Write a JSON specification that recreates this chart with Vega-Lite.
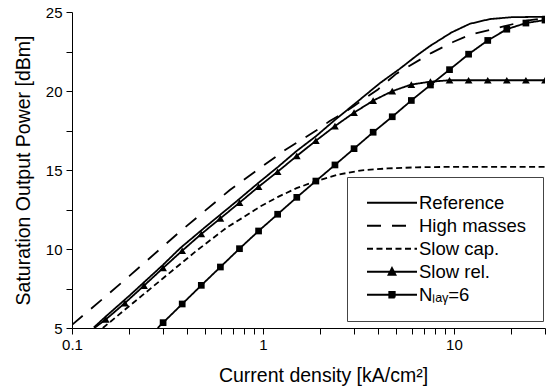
{
  "$schema": "https://vega.github.io/schema/vega-lite/v6.json",
  "width": 473,
  "height": 316,
  "autosize": {"type": "none"},
  "padding": {"left": 72, "top": 12, "right": 6, "bottom": 62},
  "config": {
    "view": {"stroke": null},
    "font": "Liberation Sans",
    "axis": {
      "domainColor": "black", "domainWidth": 1, "tickColor": "black", "tickWidth": 1,
      "labelColor": "black", "titleColor": "black", "labelFont": "Liberation Sans",
      "labelFontSize": 15, "titleFont": "Liberation Sans", "titleFontSize": 19.5,
      "titleFontWeight": "normal", "grid": false
    }
  },
  "data": {"values": [
    {"s": "Reference", "x": 0.13, "y": 5.03},
    {"s": "Reference", "x": 0.15, "y": 5.72},
    {"s": "Reference", "x": 0.2, "y": 7.05},
    {"s": "Reference", "x": 0.3, "y": 9.0},
    {"s": "Reference", "x": 0.3675, "y": 10.04},
    {"s": "Reference", "x": 0.5, "y": 11.4},
    {"s": "Reference", "x": 0.7, "y": 12.85},
    {"s": "Reference", "x": 0.95, "y": 14.2},
    {"s": "Reference", "x": 1.2, "y": 15.2},
    {"s": "Reference", "x": 1.5, "y": 16.2},
    {"s": "Reference", "x": 1.9, "y": 17.15},
    {"s": "Reference", "x": 2.4, "y": 18.2},
    {"s": "Reference", "x": 3.0, "y": 19.15},
    {"s": "Reference", "x": 4.1, "y": 20.5},
    {"s": "Reference", "x": 5.2, "y": 21.4},
    {"s": "Reference", "x": 6.4, "y": 22.25},
    {"s": "Reference", "x": 7.5, "y": 22.85},
    {"s": "Reference", "x": 9.7, "y": 23.7},
    {"s": "Reference", "x": 12.1, "y": 24.25},
    {"s": "Reference", "x": 15.4, "y": 24.55},
    {"s": "Reference", "x": 20, "y": 24.67},
    {"s": "Reference", "x": 30, "y": 24.7},

    {"s": "High masses", "x": 0.1, "y": 5.2},
    {"s": "High masses", "x": 0.15, "y": 7.0},
    {"s": "High masses", "x": 0.2, "y": 8.3},
    {"s": "High masses", "x": 0.3675, "y": 11.1},
    {"s": "High masses", "x": 0.671, "y": 13.73},
    {"s": "High masses", "x": 0.908, "y": 14.89},
    {"s": "High masses", "x": 1.3, "y": 16.25},
    {"s": "High masses", "x": 1.9, "y": 17.5},
    {"s": "High masses", "x": 2.24, "y": 18.1},
    {"s": "High masses", "x": 2.63, "y": 18.6},
    {"s": "High masses", "x": 3.0, "y": 19.05},
    {"s": "High masses", "x": 4.0, "y": 20.1},
    {"s": "High masses", "x": 5.0, "y": 21.1},
    {"s": "High masses", "x": 7.6, "y": 22.4},
    {"s": "High masses", "x": 9.9, "y": 23.1},
    {"s": "High masses", "x": 12.1, "y": 23.55},
    {"s": "High masses", "x": 15.4, "y": 23.86},
    {"s": "High masses", "x": 18, "y": 24.07},
    {"s": "High masses", "x": 24, "y": 24.45},
    {"s": "High masses", "x": 30, "y": 24.62},

    {"s": "Slow cap.", "x": 0.145, "y": 5.0},
    {"s": "Slow cap.", "x": 0.2, "y": 6.4},
    {"s": "Slow cap.", "x": 0.3, "y": 8.15},
    {"s": "Slow cap.", "x": 0.45, "y": 9.9},
    {"s": "Slow cap.", "x": 0.645, "y": 11.35},
    {"s": "Slow cap.", "x": 0.8, "y": 12.05},
    {"s": "Slow cap.", "x": 0.964, "y": 12.68},
    {"s": "Slow cap.", "x": 1.2, "y": 13.3},
    {"s": "Slow cap.", "x": 1.5, "y": 13.85},
    {"s": "Slow cap.", "x": 1.9, "y": 14.3},
    {"s": "Slow cap.", "x": 2.5, "y": 14.72},
    {"s": "Slow cap.", "x": 3.3, "y": 14.98},
    {"s": "Slow cap.", "x": 4.5, "y": 15.1},
    {"s": "Slow cap.", "x": 6.4, "y": 15.17},
    {"s": "Slow cap.", "x": 10, "y": 15.2},
    {"s": "Slow cap.", "x": 30, "y": 15.2},

    {"s": "Slow rel.", "x": 0.131, "y": 5.0},
    {"s": "Slow rel.", "x": 0.1503, "y": 5.54},
    {"s": "Slow rel.", "x": 0.1893, "y": 6.58},
    {"s": "Slow rel.", "x": 0.2383, "y": 7.68},
    {"s": "Slow rel.", "x": 0.3, "y": 8.8},
    {"s": "Slow rel.", "x": 0.3777, "y": 9.89},
    {"s": "Slow rel.", "x": 0.4755, "y": 10.95},
    {"s": "Slow rel.", "x": 0.5986, "y": 11.94},
    {"s": "Slow rel.", "x": 0.7536, "y": 12.93},
    {"s": "Slow rel.", "x": 0.9487, "y": 13.94},
    {"s": "Slow rel.", "x": 1.194, "y": 14.89},
    {"s": "Slow rel.", "x": 1.504, "y": 15.89},
    {"s": "Slow rel.", "x": 1.893, "y": 16.85},
    {"s": "Slow rel.", "x": 2.383, "y": 17.78},
    {"s": "Slow rel.", "x": 3.0, "y": 18.63},
    {"s": "Slow rel.", "x": 3.777, "y": 19.39},
    {"s": "Slow rel.", "x": 4.755, "y": 19.99},
    {"s": "Slow rel.", "x": 5.986, "y": 20.41},
    {"s": "Slow rel.", "x": 7.536, "y": 20.59},
    {"s": "Slow rel.", "x": 9.487, "y": 20.68},
    {"s": "Slow rel.", "x": 11.94, "y": 20.68},
    {"s": "Slow rel.", "x": 15.04, "y": 20.68},
    {"s": "Slow rel.", "x": 18.93, "y": 20.68},
    {"s": "Slow rel.", "x": 23.83, "y": 20.68},
    {"s": "Slow rel.", "x": 30.0, "y": 20.68},

    {"s": "Nₗₐᵧ=6", "x": 0.281, "y": 5.0},
    {"s": "Nₗₐᵧ=6", "x": 0.3, "y": 5.34},
    {"s": "Nₗₐᵧ=6", "x": 0.3777, "y": 6.52},
    {"s": "Nₗₐᵧ=6", "x": 0.4755, "y": 7.7},
    {"s": "Nₗₐᵧ=6", "x": 0.5986, "y": 8.86},
    {"s": "Nₗₐᵧ=6", "x": 0.7536, "y": 10.02},
    {"s": "Nₗₐᵧ=6", "x": 0.9487, "y": 11.14},
    {"s": "Nₗₐᵧ=6", "x": 1.194, "y": 12.2},
    {"s": "Nₗₐᵧ=6", "x": 1.504, "y": 13.27},
    {"s": "Nₗₐᵧ=6", "x": 1.893, "y": 14.3},
    {"s": "Nₗₐᵧ=6", "x": 2.383, "y": 15.32},
    {"s": "Nₗₐᵧ=6", "x": 3.0, "y": 16.35},
    {"s": "Nₗₐᵧ=6", "x": 3.777, "y": 17.39},
    {"s": "Nₗₐᵧ=6", "x": 4.755, "y": 18.37},
    {"s": "Nₗₐᵧ=6", "x": 5.986, "y": 19.4},
    {"s": "Nₗₐᵧ=6", "x": 7.536, "y": 20.38},
    {"s": "Nₗₐᵧ=6", "x": 9.487, "y": 21.35},
    {"s": "Nₗₐᵧ=6", "x": 11.94, "y": 22.33},
    {"s": "Nₗₐᵧ=6", "x": 15.04, "y": 23.2},
    {"s": "Nₗₐᵧ=6", "x": 18.93, "y": 23.91},
    {"s": "Nₗₐᵧ=6", "x": 23.83, "y": 24.3},
    {"s": "Nₗₐᵧ=6", "x": 30.0, "y": 24.49}
  ]},
  "encoding": {
    "x": {
      "field": "x", "type": "quantitative",
      "scale": {"type": "log", "domain": [0.1, 30], "nice": false},
      "axis": {
        "values": [0.1, 0.2, 0.3, 0.4, 0.5, 0.6, 0.7, 0.8, 0.9, 1, 2, 3, 4, 5, 6, 7, 8, 9, 10, 20, 30],
        "labelExpr": "datum.value == 0.1 ? '0.1' : datum.value == 1 ? '1' : datum.value == 10 ? '10' : ''",
        "labelFlush": false, "labelOverlap": false, "tickSize": 6, "labelPadding": 3,
        "title": "Current density [kA/cm²]",
        "titleX": 251, "titleY": 53, "titleBaseline": "alphabetic", "titleAlign": "center",
        "encode": {"ticks": {"update": {"y2": {"signal": "(datum.value == 0.1 || datum.value == 1 || datum.value == 10) ? 6 : 3"}}}}
      }
    },
    "y": {
      "field": "y", "type": "quantitative",
      "scale": {"domain": [5, 25], "nice": false, "zero": false},
      "axis": {
        "values": [5, 7.5, 10, 12.5, 15, 17.5, 20, 22.5, 25],
        "labelExpr": "datum.value % 5 == 0 ? format(datum.value, 'd') : ''",
        "labelFlush": false, "labelOverlap": false, "tickSize": 6, "labelPadding": 4,
        "title": "Saturation Output Power [dBm]",
        "titleX": -42.7, "titleBaseline": "alphabetic",
        "encode": {"ticks": {"update": {"x2": {"signal": "datum.value % 5 == 0 ? -6 : -3"}}}}
      }
    }
  },
  "layer": [
    {
      "mark": {"type": "line", "strokeWidth": 1.8, "color": "black", "clip": true},
      "encoding": {
        "strokeDash": {
          "field": "s", "type": "nominal",
          "scale": {
            "domain": ["Reference", "High masses", "Slow cap.", "Slow rel.", "Nₗₐᵧ=6"],
            "range": [[1, 0], [14, 11], [6, 3.5], [1, 0], [1, 0]]
          },
          "legend": {
            "title": null, "orient": "none", "legendX": 275, "legendY": 165,
            "padding": 16.5, "rowPadding": 4,
            "symbolType": "M-5,0H5", "symbolSize": 100, "symbolOffset": 19.25,
            "labelOffset": 17.75, "labelFontSize": 18.5, "labelFont": "Liberation Sans",
            "labelColor": "black", "labelLimit": 300,
            "symbolStrokeColor": "black", "symbolStrokeWidth": 1.8,
            "strokeColor": "#444", "fillColor": "white",
            "encode": {
              "symbols": {
                "update": {
                  "shape": {"signal": "datum.value == 'Slow rel.' ? 'M-5,0H5M-0.7,0.6L0,-0.75L0.7,0.6Z' : datum.value == 'Nₗₐᵧ=6' ? 'M-5,0H5M-0.55,-0.55H0.55V0.55H-0.55Z' : 'M-5,0H5'"},
                  "fill": {"value": "black"},
                  "stroke": {"value": "black"},
                  "strokeWidth": {"value": 1.8},
                  "strokeOpacity": {"value": 1},
                  "opacity": {"value": 1},
                  "strokeDash": {"signal": "datum.value == 'High masses' ? [12, 8] : datum.value == 'Slow cap.' ? [6, 4] : [1, 0]"}
                }
              }
            }
          }
        }
      }
    },
    {
      "transform": [{"filter": "datum.s == 'Slow rel.' && datum.y > 5.1"}],
      "mark": {"type": "point", "shape": "triangle-up", "filled": true, "size": 60, "color": "black", "opacity": 1, "clip": true}
    },
    {
      "transform": [{"filter": "datum.s == 'Nₗₐᵧ=6' && datum.y > 5.1"}],
      "mark": {"type": "point", "shape": "square", "filled": true, "size": 45, "color": "black", "opacity": 1, "clip": true}
    }
  ]
}
